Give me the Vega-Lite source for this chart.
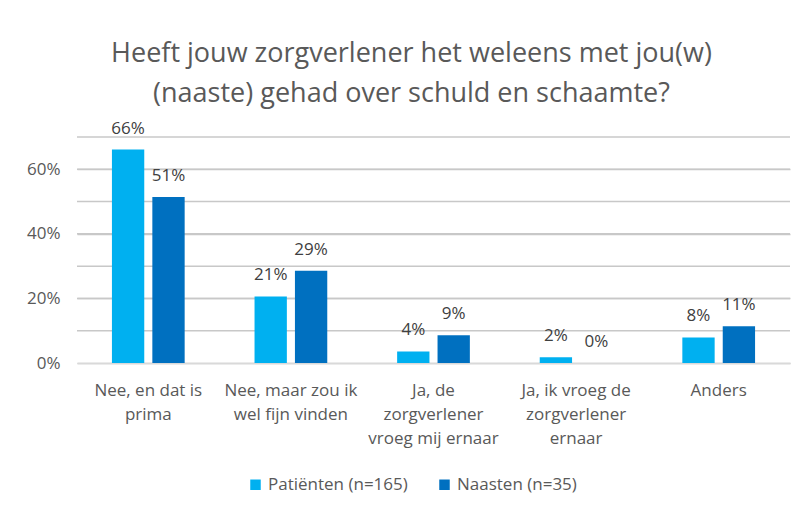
{
  "$schema": "https://vega.github.io/schema/vega-lite/v6.json",
  "autosize": {"type": "none"},
  "width": 713,
  "height": 226,
  "padding": {"left": 77, "top": 137, "right": 17, "bottom": 144},
  "background": "white",
  "config": {
    "font": "Open Sans",
    "view": {"stroke": null}
  },
  "title": {
    "text": ["Heeft jouw zorgverlener het weleens met jou(w)", "(naaste) gehad over schuld en schaamte?"],
    "font": "Open Sans",
    "fontSize": 27,
    "fontWeight": "normal",
    "color": "#595959",
    "lineHeight": 40,
    "anchor": "middle",
    "frame": "group",
    "offset": 12,
    "dx": -22
  },
  "datasets": {
    "bars": [
      {"cat": "Nee, en dat is|prima", "grp": "Patiënten (n=165)", "v": 0.661},
      {"cat": "Nee, en dat is|prima", "grp": "Naasten (n=35)", "v": 0.514},
      {"cat": "Nee, maar zou ik|wel fijn vinden", "grp": "Patiënten (n=165)", "v": 0.206},
      {"cat": "Nee, maar zou ik|wel fijn vinden", "grp": "Naasten (n=35)", "v": 0.286},
      {"cat": "Ja, de|zorgverlener|vroeg mij ernaar", "grp": "Patiënten (n=165)", "v": 0.036},
      {"cat": "Ja, de|zorgverlener|vroeg mij ernaar", "grp": "Naasten (n=35)", "v": 0.086},
      {"cat": "Ja, ik vroeg de|zorgverlener|ernaar", "grp": "Patiënten (n=165)", "v": 0.018},
      {"cat": "Ja, ik vroeg de|zorgverlener|ernaar", "grp": "Naasten (n=35)", "v": 0.0},
      {"cat": "Anders", "grp": "Patiënten (n=165)", "v": 0.079},
      {"cat": "Anders", "grp": "Naasten (n=35)", "v": 0.114}
    ],
    "grid": [
      {"g": 0.1}, {"g": 0.2}, {"g": 0.3}, {"g": 0.4}, {"g": 0.5}, {"g": 0.6}, {"g": 0.7}
    ]
  },
  "layer": [
    {
      "data": {"name": "grid"},
      "mark": {"type": "rule", "color": "#C8C8C8", "strokeWidth": 1.5},
      "encoding": {
        "y": {
          "field": "g",
          "type": "quantitative",
          "title": null,
          "scale": {"domain": [0, 0.7], "nice": false},
          "axis": {
            "format": ".0%",
            "values": [0, 0.1, 0.2, 0.3, 0.4, 0.5, 0.6, 0.7],
            "labelOverlap": false,
            "domain": false,
            "ticks": false,
            "grid": true,
            "gridColor": "#C8C8C8",
            "gridWidth": 1.5,
            "labelFont": "Open Sans",
            "labelFontSize": 17,
            "labelColor": "#595959",
            "labelPadding": 17
          }
        }
      }
    },
    {
      "data": {"name": "bars"},
      "encoding": {
        "x": {
          "field": "cat",
          "type": "nominal",
          "sort": null,
          "title": null,
          "scale": {"paddingInner": 0.49, "paddingOuter": 0.245},
          "axis": {
            "labelExpr": "split(datum.label, '|')",
            "labelAngle": 0,
            "labelFont": "Open Sans",
            "labelFontSize": 17,
            "labelColor": "#595959",
            "labelLineHeight": 24,
            "labelPadding": 19,
            "labelOverlap": false,
            "ticks": false,
            "grid": false,
            "domain": true,
            "domainColor": "#D9D9D9",
            "domainWidth": 1.5,
            "labelBaseline": "top"
          }
        },
        "xOffset": {
          "field": "grp",
          "type": "nominal",
          "sort": ["Patiënten (n=165)", "Naasten (n=35)"],
          "scale": {"paddingInner": 0.2, "paddingOuter": 0}
        },
        "y": {
          "field": "v",
          "type": "quantitative",
          "title": null,
          "scale": {"domain": [0, 0.7], "nice": false}
        }
      },
      "layer": [
        {
          "mark": {"type": "bar"},
          "encoding": {
            "color": {
              "field": "grp",
              "type": "nominal",
              "sort": ["Patiënten (n=165)", "Naasten (n=35)"],
              "scale": {"range": ["#00B0F0", "#0070C0"]},
              "legend": {
                "title": null,
                "orient": "none",
                "direction": "horizontal",
                "legendX": 170,
                "legendY": 339,
                "symbolType": "square",
                "symbolSize": 110,
                "symbolStrokeWidth": 0,
                "labelFont": "Open Sans",
                "labelFontSize": 17,
                "labelColor": "#595959",
                "columnPadding": 28,
                "labelOffset": 4
              }
            }
          }
        },
        {
          "mark": {"type": "text", "baseline": "bottom", "dy": -12, "fontSize": 17, "font": "Open Sans", "color": "#404040"},
          "encoding": {
            "text": {"field": "v", "type": "quantitative", "format": ".0%"}
          }
        }
      ]
    }
  ]
}
